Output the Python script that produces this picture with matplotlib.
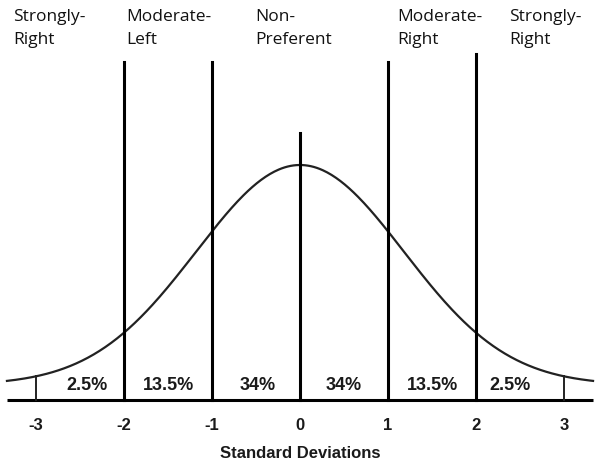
import numpy as np
import matplotlib.pyplot as plt

# data
sd_ticks = [-3, -2, -1, 0, 1, 2, 3]
tick_labels = ["-3", "-2", "-1", "0", "1", "2", "3"]
pct_labels = ["2.5%", "13.5%", "34%", "34%", "13.5%", "2.5%"]
pct_centers = [-2.42, -1.5, -0.48, 0.5, 1.5, 2.39]
group_labels = ["Strongly-\nRight", "Moderate-\nLeft", "Non-\nPreferent", "Moderate-\nRight", "Strongly-\nRight"]
group_left = [-3.26, -1.97, -0.51, 1.1, 2.38]
divider_x = [-2, -1, 1, 2]
divider_top = [338, 338, 338, 346]
center_top = 267

curve_base = 15
curve_peak = 235
curve_sigma = 1.18

fig = plt.figure(figsize=(6, 4.68), dpi=100)
ax = fig.add_axes([0, 0, 1, 1])
ax.set_xlim(-300 / 88, 300 / 88)
ax.set_ylim(-68, 400)
ax.axis("off")

x = np.linspace(-3.33, 3.33, 400)
y = curve_base + (curve_peak - curve_base) * np.exp(-x ** 2 / (2 * curve_sigma ** 2))
ax.plot(x, y, color="#222222", lw=1.6)

# axis line
ax.plot([-3.33, 3.33], [0, 0], color="black", lw=2.2, solid_capstyle="butt")

for xd, top in zip(divider_x, divider_top):
    ax.plot([xd, xd], [0, top], color="black", lw=2.2)
ax.plot([0, 0], [0, center_top], color="black", lw=2.2)

for xd in [-3, 3]:
    yc = curve_base + (curve_peak - curve_base) * np.exp(-xd ** 2 / (2 * curve_sigma ** 2))
    ax.plot([xd, xd], [0, yc], color="#222222", lw=1.4)

for xc, lab in zip(pct_centers, pct_labels):
    ax.text(xc, 14, lab, ha="center", va="center", fontsize=13,
            fontweight="bold", family="Liberation Sans", color="#1a1a1a")

for xt, lab in zip(sd_ticks, tick_labels):
    ax.text(xt, -25, lab, ha="center", va="center", fontsize=12,
            fontweight="bold", family="Liberation Sans", color="#1a1a1a")

ax.text(0, -53, "Standard Deviations", ha="center", va="center", fontsize=12,
        fontweight="bold", family="Liberation Sans", color="#1a1a1a")

for xl, lab in zip(group_left, group_labels):
    ax.text(xl, 391, lab, ha="left", va="top", fontsize=12.5,
            family="Open Sans", color="#111111", linespacing=1.55)

fig.savefig("out.png", dpi=100)
